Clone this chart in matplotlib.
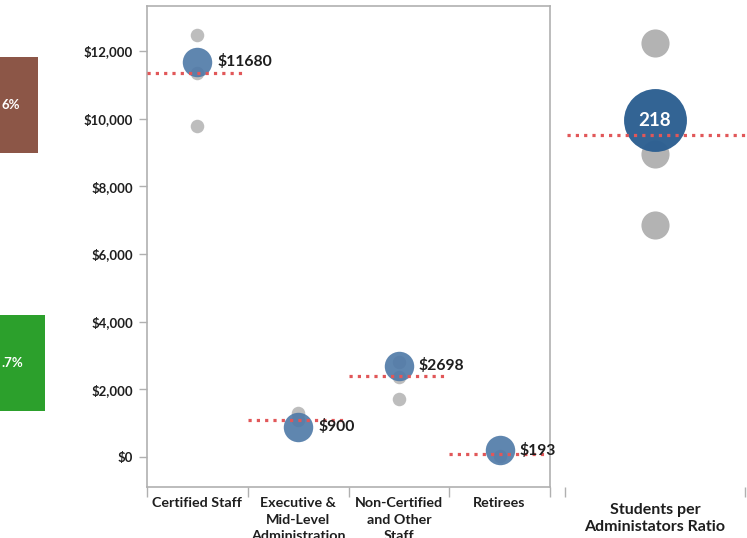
import matplotlib
matplotlib.use("Agg")
import matplotlib.pyplot as plt

plt.rcParams['font.family'] = ['Lato', 'DejaVu Sans']

# ---------------- data ----------------
categories = ["Certified Staff", "Executive &\nMid-Level\nAdministration",
              "Non-Certified\nand Other\nStaff", "Retirees"]
district_values = [11680, 900, 2698, 193]
district_labels = ["$11680", "$900", "$2698", "$193"]
peer_values = [[12470, 11350, 9780], [1300, 1100], [2810, 2370, 1710], [40]]
reference_values = [11350, 1090, 2394, 90]
y_ticks = [0, 2000, 4000, 6000, 8000, 10000, 12000]
y_tick_labels = ["$0", "$2,000", "$4,000", "$6,000", "$8,000", "$10,000", "$12,000"]

ratio_value = 218
ratio_peers = [259, 200, 162]
ratio_reference = 210
ratio_title = "Students per\nAdministators Ratio"

left_labels = ["6%", ".7%"]
left_values = [3.8, 4.5]
left_colors = ["#8c5647", "#2ca02c"]

# ---------------- figure ----------------
W, H = 747, 538
fig = plt.figure(figsize=(W / 100, H / 100), dpi=100)

def px_axes(x0, y0, x1, y1):
    return fig.add_axes([x0 / W, 1 - y1 / H, (x1 - x0) / W, (y1 - y0) / H])

BLUE = "#4e79a7"
GRAY = "#bdbdbd"
RED = "#e15759"
SPINE = "#b0b0b0"
TXT = "#1e1e1e"

# ---- left partial bars ----
ax0 = px_axes(0, 0, 50, 538)
ypos = list(range(len(left_values)))
ax0.barh(ypos, left_values, height=0.372, color=left_colors)
ax0.set_xlim(0, 5)
ax0.set_ylim(1.678, -0.407)
for y, lab in zip(ypos, left_labels):
    ax0.text(2.05 if lab == "6%" else 2.3, y, lab, ha="right", va="center",
             color="white", fontsize=9.5, fontweight="bold")
ax0.axis("off")

# ---- middle panel ----
ax = px_axes(147, 6, 550, 487)
xs = list(range(len(categories)))
for i, vals in enumerate(peer_values):
    ax.scatter([i] * len(vals), vals, s=95, color=GRAY, zorder=2, linewidths=0)
ax.scatter(xs, district_values, s=450, color=BLUE, alpha=0.9, zorder=3, linewidths=0)
for i, r in enumerate(reference_values):
    ax.plot([i - 0.5, i + 0.45], [r, r], color=RED, lw=2.3,
            linestyle=(0, (1.0, 1.6)), zorder=4, solid_capstyle="butt")
for i, (v, lab) in enumerate(zip(district_values, district_labels)):
    ax.annotate(lab, (i, v), xytext=(14.5, 0), textcoords="offset points",
                ha="left", va="center", fontsize=11.3, fontweight="bold",
                color=TXT, zorder=5, annotation_clip=False)

ax.set_xlim(-0.5, 3.5)
ax.set_ylim(-887, 13330)
ax.set_yticks(y_ticks)
ax.set_yticklabels(y_tick_labels, fontsize=9.5, fontweight="bold", color=TXT)
ax.set_xticks([x - 0.5 for x in xs] + [3.5])
ax.set_xticklabels([])
ax.set_xticks(xs, minor=True)
ax.set_xticklabels(categories, minor=True, fontsize=10.3, fontweight="bold",
                   color=TXT, linespacing=1.45)
ax.tick_params(axis="x", which="minor", length=0, pad=7.5)
ax.tick_params(axis="x", which="major", length=7, color=SPINE, width=1)
ax.tick_params(axis="y", length=6, color=SPINE, width=1, pad=4)
for s in ax.spines.values():
    s.set_color(SPINE)
    s.set_linewidth(1.2)

# ---- right panel ----
ax2 = px_axes(565, 6, 745, 487)
ax2.scatter([0.5] * len(ratio_peers), ratio_peers, s=410, color="#b3b3b3",
            zorder=2, linewidths=0)
ax2.scatter([0.5], [ratio_value], s=2050, color="#2c5f91", alpha=0.97,
            zorder=3, linewidths=0)
ax2.plot([0.01, 1.1], [ratio_reference, ratio_reference], color=RED, lw=2.3,
         linestyle=(0, (1.0, 1.6)), zorder=4, clip_on=False)
ax2.text(0.5, ratio_value, str(ratio_value), ha="center", va="center",
         color="white", fontsize=13.5, fontweight="bold", zorder=5)
ax2.set_xlim(0, 1)
ax2.set_ylim(22.3, 278.8)
ax2.set_yticks([])
ax2.set_xticks([0, 1])
ax2.set_xticklabels([])
ax2.tick_params(axis="x", length=7, color=SPINE, width=1)
for s in ax2.spines.values():
    s.set_visible(False)
ax2.set_xlabel(ratio_title, fontsize=11.5, fontweight="bold", color=TXT,
               labelpad=1, linespacing=1.3)

fig.savefig("out.png", dpi=100)
